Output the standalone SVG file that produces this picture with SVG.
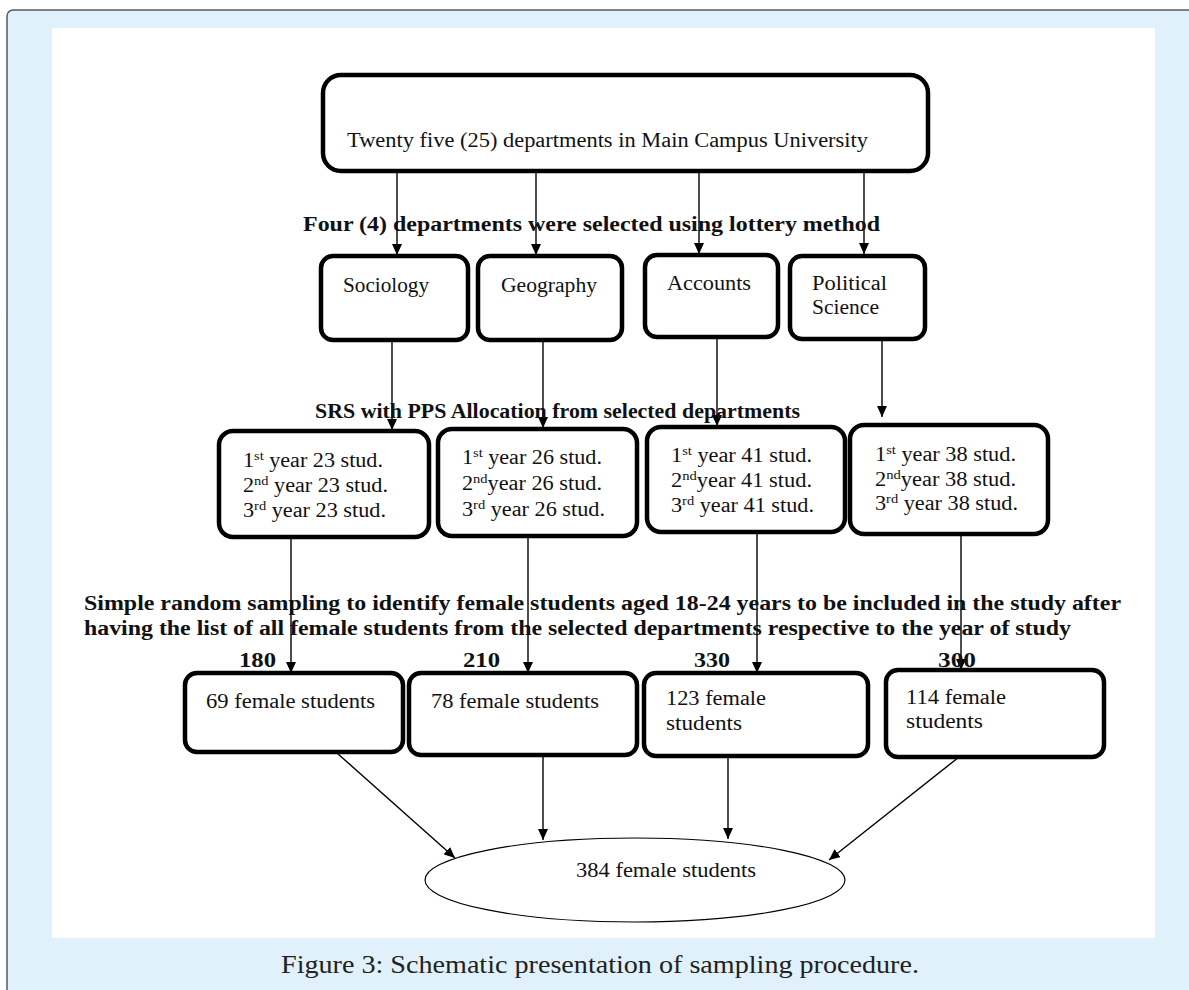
<svg xmlns="http://www.w3.org/2000/svg" width="1189" height="990" viewBox="0 0 1189 990">
<style>
.panel{fill:#E0F1FB;stroke:#5a5a5a;stroke-width:1.5}
.box{fill:#fff;stroke:#000;stroke-width:4.5}
.t{font-family:"Liberation Serif","Times New Roman",serif;font-size:20px;fill:#111}
.b{font-family:"Liberation Serif","Times New Roman",serif;font-size:20px;font-weight:bold;fill:#111}
.sup{font-size:13px}
.cap{font-family:"Liberation Serif","Times New Roman",serif;font-size:25px;fill:#222}
.c{stroke:#000;stroke-width:1.4;fill:none}
</style>
<defs>
<marker id="ah" markerUnits="userSpaceOnUse" markerWidth="12" markerHeight="10" refX="11" refY="5" orient="auto">
<path d="M0,0 L11,5 L0,10 z" fill="#000"/>
</marker>
</defs>
<rect class="panel" x="7" y="10" width="1205" height="1000" rx="6"/>
<rect x="52" y="28" width="1103" height="910" fill="#fff"/>
<text class="cap" x="281" y="973" textLength="638" lengthAdjust="spacingAndGlyphs">Figure 3: Schematic presentation of sampling procedure.</text>

<g id="connectors">
<line class="c" x1="397" y1="172" x2="397" y2="255" marker-end="url(#ah)"/>
<line class="c" x1="536" y1="172" x2="536" y2="255" marker-end="url(#ah)"/>
<line class="c" x1="699" y1="172" x2="699" y2="254" marker-end="url(#ah)"/>
<line class="c" x1="864" y1="172" x2="864" y2="254" marker-end="url(#ah)"/>
<line class="c" x1="392" y1="340" x2="392" y2="430" marker-end="url(#ah)"/>
<line class="c" x1="543" y1="340" x2="543" y2="428" marker-end="url(#ah)"/>
<line class="c" x1="717" y1="337" x2="717" y2="426" marker-end="url(#ah)"/>
<line class="c" x1="882" y1="340" x2="882" y2="417" marker-end="url(#ah)"/>
<line class="c" x1="291" y1="537" x2="291" y2="673" marker-end="url(#ah)"/>
<line class="c" x1="528" y1="536" x2="528" y2="673" marker-end="url(#ah)"/>
<line class="c" x1="757" y1="532" x2="757" y2="673" marker-end="url(#ah)"/>
<line class="c" x1="961" y1="534" x2="961" y2="670" marker-end="url(#ah)"/>
<line class="c" x1="337" y1="753" x2="455" y2="858" marker-end="url(#ah)"/>
<line class="c" x1="543" y1="755" x2="543" y2="840" marker-end="url(#ah)"/>
<line class="c" x1="728" y1="757" x2="728" y2="839" marker-end="url(#ah)"/>
<line class="c" x1="959" y1="757" x2="829" y2="860" marker-end="url(#ah)"/>
</g>

<g id="labels">
<text class="b" x="303" y="231" textLength="577" lengthAdjust="spacingAndGlyphs">Four (4) departments were selected using lottery method</text>
<text class="b" x="315" y="418" textLength="485" lengthAdjust="spacingAndGlyphs">SRS with PPS Allocation from selected departments</text>
<text class="b" x="84" y="610" textLength="1037" lengthAdjust="spacingAndGlyphs">Simple random sampling to identify female students aged 18-24 years to be included in the study after</text>
<text class="b" x="84" y="635" textLength="987" lengthAdjust="spacingAndGlyphs">having the list of all female students from the selected departments respective to the year of study</text>
<text class="b" x="239" y="667" font-size="21" textLength="37" lengthAdjust="spacingAndGlyphs">180</text>
<text class="b" x="463" y="667" font-size="21" textLength="37" lengthAdjust="spacingAndGlyphs">210</text>
<text class="b" x="694" y="667" font-size="21" textLength="36" lengthAdjust="spacingAndGlyphs">330</text>
<text class="b" x="938" y="667" font-size="21" textLength="38" lengthAdjust="spacingAndGlyphs">300</text>
</g>

<g id="n-top">
<rect class="box" x="323" y="75" width="605" height="96" rx="18"/>
<text class="t" x="347" y="147" textLength="521" lengthAdjust="spacingAndGlyphs">Twenty five (25) departments in Main Campus University</text>
</g>

<g id="n-sociology">
<rect class="box" x="321" y="256" width="147" height="84" rx="12"/>
<text class="t" x="343" y="292" textLength="86" lengthAdjust="spacingAndGlyphs">Sociology</text>
</g>
<g id="n-geography">
<rect class="box" x="478" y="256" width="144" height="84" rx="12"/>
<text class="t" x="501" y="292" textLength="96" lengthAdjust="spacingAndGlyphs">Geography</text>
</g>
<g id="n-accounts">
<rect class="box" x="645" y="255" width="133" height="82" rx="12"/>
<text class="t" x="667" y="290" textLength="84" lengthAdjust="spacingAndGlyphs">Accounts</text>
</g>
<g id="n-political">
<rect class="box" x="790" y="256" width="135" height="83" rx="12"/>
<text class="t" x="812" y="290" textLength="75" lengthAdjust="spacingAndGlyphs">Political</text>
<text class="t" x="812" y="314" textLength="67" lengthAdjust="spacingAndGlyphs">Science</text>
</g>

<g id="n-years-soc">
<rect class="box" x="219" y="431" width="210" height="106" rx="14"/>
<text class="t" x="243" y="467" textLength="140" lengthAdjust="spacingAndGlyphs">1<tspan class="sup" dy="-7">st</tspan><tspan dy="7"> year 23 stud.</tspan></text>
<text class="t" x="243" y="492" textLength="145" lengthAdjust="spacingAndGlyphs">2<tspan class="sup" dy="-7">nd</tspan><tspan dy="7"> year 23 stud.</tspan></text>
<text class="t" x="243" y="517" textLength="143" lengthAdjust="spacingAndGlyphs">3<tspan class="sup" dy="-7">rd</tspan><tspan dy="7"> year 23 stud.</tspan></text>
</g>
<g id="n-years-geo">
<rect class="box" x="438" y="429" width="199" height="107" rx="14"/>
<text class="t" x="462" y="464" textLength="140" lengthAdjust="spacingAndGlyphs">1<tspan class="sup" dy="-7">st</tspan><tspan dy="7"> year 26 stud.</tspan></text>
<text class="t" x="462" y="490" textLength="140" lengthAdjust="spacingAndGlyphs">2<tspan class="sup" dy="-7">nd</tspan><tspan dy="7">year 26 stud.</tspan></text>
<text class="t" x="462" y="516" textLength="143" lengthAdjust="spacingAndGlyphs">3<tspan class="sup" dy="-7">rd</tspan><tspan dy="7"> year 26 stud.</tspan></text>
</g>
<g id="n-years-acc">
<rect class="box" x="647" y="427" width="198" height="105" rx="14"/>
<text class="t" x="671" y="462" textLength="141" lengthAdjust="spacingAndGlyphs">1<tspan class="sup" dy="-7">st</tspan><tspan dy="7"> year 41 stud.</tspan></text>
<text class="t" x="671" y="487" textLength="141" lengthAdjust="spacingAndGlyphs">2<tspan class="sup" dy="-7">nd</tspan><tspan dy="7">year 41 stud.</tspan></text>
<text class="t" x="671" y="512" textLength="143" lengthAdjust="spacingAndGlyphs">3<tspan class="sup" dy="-7">rd</tspan><tspan dy="7"> year 41 stud.</tspan></text>
</g>
<g id="n-years-pol">
<rect class="box" x="850" y="425" width="198" height="109" rx="14"/>
<text class="t" x="875" y="461" textLength="141" lengthAdjust="spacingAndGlyphs">1<tspan class="sup" dy="-7">st</tspan><tspan dy="7"> year 38 stud.</tspan></text>
<text class="t" x="875" y="486" textLength="141" lengthAdjust="spacingAndGlyphs">2<tspan class="sup" dy="-7">nd</tspan><tspan dy="7">year 38 stud.</tspan></text>
<text class="t" x="875" y="510" textLength="143" lengthAdjust="spacingAndGlyphs">3<tspan class="sup" dy="-7">rd</tspan><tspan dy="7"> year 38 stud.</tspan></text>
</g>

<g id="n-f69">
<rect class="box" x="185" y="673" width="218" height="79" rx="12"/>
<text class="t" x="206" y="708" textLength="169" lengthAdjust="spacingAndGlyphs">69 female students</text>
</g>
<g id="n-f78">
<rect class="box" x="409" y="673" width="228" height="82" rx="12"/>
<text class="t" x="431" y="708" textLength="168" lengthAdjust="spacingAndGlyphs">78 female students</text>
</g>
<g id="n-f123">
<rect class="box" x="644" y="673" width="224" height="83" rx="12"/>
<text class="t" x="666" y="705" textLength="100" lengthAdjust="spacingAndGlyphs">123 female</text>
<text class="t" x="666" y="730" textLength="76" lengthAdjust="spacingAndGlyphs">students</text>
</g>
<g id="n-f114">
<rect class="box" x="886" y="670" width="218" height="87" rx="12"/>
<text class="t" x="906" y="704" textLength="100" lengthAdjust="spacingAndGlyphs">114 female</text>
<text class="t" x="906" y="728" textLength="77" lengthAdjust="spacingAndGlyphs">students</text>
</g>

<g id="n-total">
<ellipse cx="635" cy="880" rx="210" ry="42" fill="#fff" stroke="#000" stroke-width="1.2"/>
<text class="t" x="576" y="877" textLength="180" lengthAdjust="spacingAndGlyphs">384 female students</text>
</g>
</svg>
